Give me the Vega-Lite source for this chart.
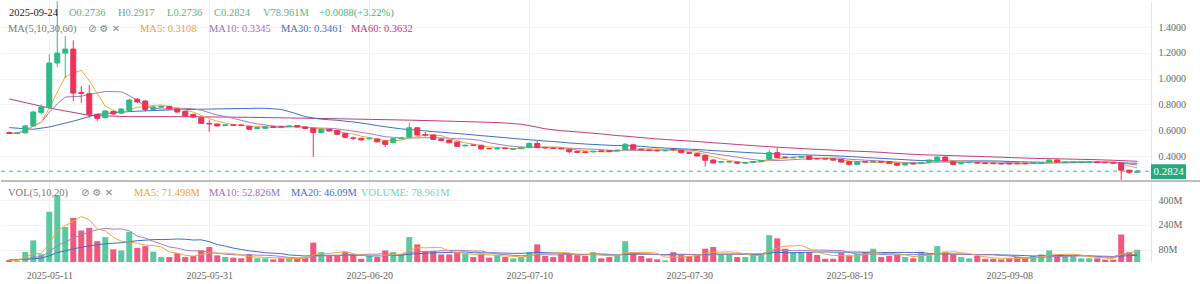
{
"$schema":"https://vega.github.io/schema/vega-lite/v6.json",
"background":"white",
"padding":0,
"spacing":0,
"config":{"view":{"stroke":null},"font":"Liberation Serif","axis":{"labelOverlap":false,"labelFont":"Liberation Serif","labelFontSize":10,"labelColor":"#666"}},
"datasets":{
"k":[
{"d":"2025-05-06","o":0.582,"h":0.590,"l":0.570,"c":0.575,"v":13},
{"d":"2025-05-07","o":0.575,"h":0.585,"l":0.570,"c":0.580,"v":6},
{"d":"2025-05-08","o":0.580,"h":0.640,"l":0.575,"c":0.633,"v":64},
{"d":"2025-05-09","o":0.633,"h":0.750,"l":0.628,"c":0.741,"v":140},
{"d":"2025-05-10","o":0.738,"h":0.800,"l":0.725,"c":0.780,"v":50},
{"d":"2025-05-11","o":0.775,"h":1.190,"l":0.765,"c":1.121,"v":325},
{"d":"2025-05-12","o":1.121,"h":1.600,"l":1.090,"c":1.198,"v":432},
{"d":"2025-05-13","o":1.198,"h":1.330,"l":1.005,"c":1.229,"v":226},
{"d":"2025-05-14","o":1.229,"h":1.297,"l":0.826,"c":0.888,"v":286},
{"d":"2025-05-15","o":0.892,"h":0.943,"l":0.810,"c":0.885,"v":204},
{"d":"2025-05-16","o":0.883,"h":0.950,"l":0.697,"c":0.723,"v":221},
{"d":"2025-05-17","o":0.723,"h":0.730,"l":0.672,"c":0.692,"v":135},
{"d":"2025-05-18","o":0.697,"h":0.757,"l":0.690,"c":0.749,"v":161},
{"d":"2025-05-19","o":0.745,"h":0.752,"l":0.715,"c":0.726,"v":82},
{"d":"2025-05-20","o":0.733,"h":0.772,"l":0.725,"c":0.764,"v":75},
{"d":"2025-05-21","o":0.752,"h":0.842,"l":0.745,"c":0.834,"v":196},
{"d":"2025-05-22","o":0.840,"h":0.850,"l":0.810,"c":0.819,"v":92},
{"d":"2025-05-23","o":0.826,"h":0.835,"l":0.745,"c":0.760,"v":103},
{"d":"2025-05-24","o":0.762,"h":0.790,"l":0.755,"c":0.780,"v":67},
{"d":"2025-05-25","o":0.778,"h":0.792,"l":0.770,"c":0.785,"v":32},
{"d":"2025-05-26","o":0.785,"h":0.790,"l":0.760,"c":0.765,"v":32},
{"d":"2025-05-27","o":0.765,"h":0.770,"l":0.735,"c":0.741,"v":56},
{"d":"2025-05-28","o":0.745,"h":0.750,"l":0.705,"c":0.710,"v":32},
{"d":"2025-05-29","o":0.722,"h":0.728,"l":0.697,"c":0.702,"v":39},
{"d":"2025-05-30","o":0.697,"h":0.700,"l":0.648,"c":0.653,"v":75},
{"d":"2025-05-31","o":0.653,"h":0.678,"l":0.588,"c":0.648,"v":97},
{"d":"2025-06-01","o":0.648,"h":0.652,"l":0.628,"c":0.633,"v":43},
{"d":"2025-06-02","o":0.636,"h":0.648,"l":0.632,"c":0.642,"v":32},
{"d":"2025-06-03","o":0.642,"h":0.646,"l":0.634,"c":0.638,"v":28},
{"d":"2025-06-04","o":0.640,"h":0.644,"l":0.632,"c":0.636,"v":24},
{"d":"2025-06-05","o":0.630,"h":0.635,"l":0.602,"c":0.607,"v":49},
{"d":"2025-06-06","o":0.612,"h":0.624,"l":0.608,"c":0.620,"v":24},
{"d":"2025-06-07","o":0.615,"h":0.631,"l":0.611,"c":0.627,"v":24},
{"d":"2025-06-08","o":0.627,"h":0.631,"l":0.618,"c":0.622,"v":17},
{"d":"2025-06-09","o":0.628,"h":0.632,"l":0.620,"c":0.624,"v":24},
{"d":"2025-06-10","o":0.628,"h":0.638,"l":0.624,"c":0.634,"v":24},
{"d":"2025-06-11","o":0.636,"h":0.640,"l":0.621,"c":0.625,"v":24},
{"d":"2025-06-12","o":0.625,"h":0.629,"l":0.609,"c":0.613,"v":28},
{"d":"2025-06-13","o":0.615,"h":0.620,"l":0.392,"c":0.581,"v":125},
{"d":"2025-06-14","o":0.581,"h":0.615,"l":0.575,"c":0.607,"v":64},
{"d":"2025-06-15","o":0.607,"h":0.611,"l":0.590,"c":0.594,"v":43},
{"d":"2025-06-16","o":0.599,"h":0.603,"l":0.564,"c":0.568,"v":45},
{"d":"2025-06-17","o":0.573,"h":0.577,"l":0.535,"c":0.545,"v":64},
{"d":"2025-06-18","o":0.540,"h":0.550,"l":0.525,"c":0.537,"v":49},
{"d":"2025-06-19","o":0.537,"h":0.541,"l":0.520,"c":0.525,"v":21},
{"d":"2025-06-20","o":0.533,"h":0.542,"l":0.529,"c":0.538,"v":39},
{"d":"2025-06-21","o":0.532,"h":0.536,"l":0.505,"c":0.510,"v":32},
{"d":"2025-06-22","o":0.516,"h":0.520,"l":0.470,"c":0.490,"v":75},
{"d":"2025-06-23","o":0.503,"h":0.538,"l":0.498,"c":0.534,"v":64},
{"d":"2025-06-24","o":0.534,"h":0.545,"l":0.530,"c":0.540,"v":49},
{"d":"2025-06-25","o":0.547,"h":0.658,"l":0.540,"c":0.619,"v":161},
{"d":"2025-06-26","o":0.619,"h":0.623,"l":0.558,"c":0.563,"v":114},
{"d":"2025-06-27","o":0.565,"h":0.585,"l":0.550,"c":0.562,"v":71},
{"d":"2025-06-28","o":0.563,"h":0.567,"l":0.524,"c":0.529,"v":71},
{"d":"2025-06-29","o":0.532,"h":0.536,"l":0.515,"c":0.520,"v":49},
{"d":"2025-06-30","o":0.524,"h":0.528,"l":0.498,"c":0.503,"v":49},
{"d":"2025-07-01","o":0.508,"h":0.512,"l":0.470,"c":0.475,"v":60},
{"d":"2025-07-02","o":0.478,"h":0.488,"l":0.474,"c":0.484,"v":54},
{"d":"2025-07-03","o":0.486,"h":0.490,"l":0.477,"c":0.481,"v":32},
{"d":"2025-07-04","o":0.483,"h":0.487,"l":0.450,"c":0.455,"v":54},
{"d":"2025-07-05","o":0.459,"h":0.463,"l":0.452,"c":0.456,"v":28},
{"d":"2025-07-06","o":0.455,"h":0.470,"l":0.448,"c":0.460,"v":45},
{"d":"2025-07-07","o":0.462,"h":0.466,"l":0.454,"c":0.458,"v":32},
{"d":"2025-07-08","o":0.452,"h":0.460,"l":0.448,"c":0.456,"v":24},
{"d":"2025-07-09","o":0.457,"h":0.470,"l":0.453,"c":0.466,"v":32},
{"d":"2025-07-10","o":0.465,"h":0.502,"l":0.461,"c":0.498,"v":64},
{"d":"2025-07-11","o":0.498,"h":0.516,"l":0.461,"c":0.465,"v":114},
{"d":"2025-07-12","o":0.467,"h":0.471,"l":0.458,"c":0.462,"v":39},
{"d":"2025-07-13","o":0.462,"h":0.466,"l":0.454,"c":0.458,"v":32},
{"d":"2025-07-14","o":0.460,"h":0.464,"l":0.451,"c":0.455,"v":54},
{"d":"2025-07-15","o":0.452,"h":0.456,"l":0.420,"c":0.433,"v":54},
{"d":"2025-07-16","o":0.437,"h":0.441,"l":0.424,"c":0.428,"v":45},
{"d":"2025-07-17","o":0.432,"h":0.436,"l":0.423,"c":0.427,"v":39},
{"d":"2025-07-18","o":0.432,"h":0.441,"l":0.428,"c":0.437,"v":64},
{"d":"2025-07-19","o":0.440,"h":0.444,"l":0.431,"c":0.435,"v":24},
{"d":"2025-07-20","o":0.440,"h":0.444,"l":0.432,"c":0.436,"v":32},
{"d":"2025-07-21","o":0.440,"h":0.450,"l":0.436,"c":0.446,"v":45},
{"d":"2025-07-22","o":0.450,"h":0.500,"l":0.446,"c":0.491,"v":135},
{"d":"2025-07-23","o":0.487,"h":0.491,"l":0.448,"c":0.452,"v":64},
{"d":"2025-07-24","o":0.453,"h":0.457,"l":0.444,"c":0.448,"v":39},
{"d":"2025-07-25","o":0.447,"h":0.451,"l":0.438,"c":0.442,"v":24},
{"d":"2025-07-26","o":0.444,"h":0.448,"l":0.436,"c":0.440,"v":17},
{"d":"2025-07-27","o":0.440,"h":0.448,"l":0.436,"c":0.444,"v":11},
{"d":"2025-07-28","o":0.452,"h":0.462,"l":0.440,"c":0.449,"v":64},
{"d":"2025-07-29","o":0.445,"h":0.449,"l":0.422,"c":0.426,"v":45},
{"d":"2025-07-30","o":0.426,"h":0.430,"l":0.416,"c":0.420,"v":39},
{"d":"2025-07-31","o":0.418,"h":0.422,"l":0.396,"c":0.400,"v":49},
{"d":"2025-08-01","o":0.405,"h":0.409,"l":0.317,"c":0.367,"v":86},
{"d":"2025-08-02","o":0.369,"h":0.373,"l":0.342,"c":0.346,"v":97},
{"d":"2025-08-03","o":0.352,"h":0.361,"l":0.348,"c":0.357,"v":49},
{"d":"2025-08-04","o":0.353,"h":0.361,"l":0.349,"c":0.357,"v":49},
{"d":"2025-08-05","o":0.353,"h":0.357,"l":0.340,"c":0.344,"v":32},
{"d":"2025-08-06","o":0.344,"h":0.353,"l":0.340,"c":0.349,"v":32},
{"d":"2025-08-07","o":0.350,"h":0.361,"l":0.346,"c":0.357,"v":49},
{"d":"2025-08-08","o":0.357,"h":0.369,"l":0.353,"c":0.365,"v":49},
{"d":"2025-08-09","o":0.374,"h":0.450,"l":0.370,"c":0.426,"v":174},
{"d":"2025-08-10","o":0.426,"h":0.465,"l":0.383,"c":0.387,"v":153},
{"d":"2025-08-11","o":0.392,"h":0.396,"l":0.383,"c":0.387,"v":86},
{"d":"2025-08-12","o":0.386,"h":0.394,"l":0.382,"c":0.390,"v":64},
{"d":"2025-08-13","o":0.390,"h":0.400,"l":0.386,"c":0.396,"v":60},
{"d":"2025-08-14","o":0.400,"h":0.404,"l":0.370,"c":0.374,"v":64},
{"d":"2025-08-15","o":0.380,"h":0.384,"l":0.373,"c":0.377,"v":45},
{"d":"2025-08-16","o":0.380,"h":0.384,"l":0.372,"c":0.376,"v":21},
{"d":"2025-08-17","o":0.378,"h":0.382,"l":0.364,"c":0.368,"v":21},
{"d":"2025-08-18","o":0.374,"h":0.378,"l":0.349,"c":0.353,"v":60},
{"d":"2025-08-19","o":0.356,"h":0.360,"l":0.331,"c":0.335,"v":43},
{"d":"2025-08-20","o":0.335,"h":0.360,"l":0.331,"c":0.356,"v":54},
{"d":"2025-08-21","o":0.357,"h":0.361,"l":0.349,"c":0.353,"v":64},
{"d":"2025-08-22","o":0.353,"h":0.362,"l":0.349,"c":0.358,"v":86},
{"d":"2025-08-23","o":0.358,"h":0.362,"l":0.349,"c":0.353,"v":32},
{"d":"2025-08-24","o":0.356,"h":0.360,"l":0.339,"c":0.343,"v":39},
{"d":"2025-08-25","o":0.343,"h":0.347,"l":0.324,"c":0.328,"v":45},
{"d":"2025-08-26","o":0.330,"h":0.347,"l":0.326,"c":0.343,"v":32},
{"d":"2025-08-27","o":0.345,"h":0.349,"l":0.334,"c":0.338,"v":24},
{"d":"2025-08-28","o":0.343,"h":0.354,"l":0.339,"c":0.350,"v":67},
{"d":"2025-08-29","o":0.353,"h":0.373,"l":0.349,"c":0.369,"v":49},
{"d":"2025-08-30","o":0.361,"h":0.396,"l":0.357,"c":0.392,"v":103},
{"d":"2025-08-31","o":0.392,"h":0.396,"l":0.357,"c":0.361,"v":67},
{"d":"2025-09-01","o":0.356,"h":0.360,"l":0.331,"c":0.335,"v":49},
{"d":"2025-09-02","o":0.340,"h":0.354,"l":0.336,"c":0.350,"v":32},
{"d":"2025-09-03","o":0.348,"h":0.356,"l":0.344,"c":0.352,"v":24},
{"d":"2025-09-04","o":0.350,"h":0.354,"l":0.341,"c":0.345,"v":39},
{"d":"2025-09-05","o":0.346,"h":0.350,"l":0.337,"c":0.341,"v":21},
{"d":"2025-09-06","o":0.345,"h":0.349,"l":0.337,"c":0.341,"v":21},
{"d":"2025-09-07","o":0.342,"h":0.346,"l":0.334,"c":0.338,"v":17},
{"d":"2025-09-08","o":0.342,"h":0.346,"l":0.334,"c":0.338,"v":24},
{"d":"2025-09-09","o":0.345,"h":0.349,"l":0.336,"c":0.340,"v":32},
{"d":"2025-09-10","o":0.345,"h":0.349,"l":0.336,"c":0.340,"v":24},
{"d":"2025-09-11","o":0.342,"h":0.351,"l":0.338,"c":0.347,"v":39},
{"d":"2025-09-12","o":0.344,"h":0.353,"l":0.340,"c":0.349,"v":49},
{"d":"2025-09-13","o":0.353,"h":0.373,"l":0.349,"c":0.369,"v":75},
{"d":"2025-09-14","o":0.369,"h":0.373,"l":0.349,"c":0.353,"v":49},
{"d":"2025-09-15","o":0.349,"h":0.358,"l":0.345,"c":0.354,"v":39},
{"d":"2025-09-16","o":0.350,"h":0.359,"l":0.346,"c":0.355,"v":39},
{"d":"2025-09-17","o":0.350,"h":0.359,"l":0.346,"c":0.355,"v":24},
{"d":"2025-09-18","o":0.350,"h":0.359,"l":0.346,"c":0.355,"v":24},
{"d":"2025-09-19","o":0.354,"h":0.358,"l":0.346,"c":0.350,"v":24},
{"d":"2025-09-20","o":0.352,"h":0.356,"l":0.344,"c":0.348,"v":15},
{"d":"2025-09-21","o":0.350,"h":0.354,"l":0.340,"c":0.344,"v":15},
{"d":"2025-09-22","o":0.344,"h":0.348,"l":0.215,"c":0.290,"v":178},
{"d":"2025-09-23","o":0.290,"h":0.294,"l":0.262,"c":0.2736,"v":64},
{"d":"2025-09-24","o":0.2736,"h":0.2917,"l":0.2736,"c":0.2824,"v":78.961}
],
"m30":[
{"d":"2025-05-06","m":0.620},{"d":"2025-05-09","m":0.607},{"d":"2025-05-11","m":0.625},{"d":"2025-05-14","m":0.670},{"d":"2025-05-17","m":0.723},{"d":"2025-05-21","m":0.745},{"d":"2025-05-26","m":0.757},{"d":"2025-05-31","m":0.764},{"d":"2025-06-04","m":0.768}
],
"m60":[
{"d":"2025-05-06","m":0.842},{"d":"2025-05-11","m":0.772},{"d":"2025-05-16","m":0.715},{"d":"2025-05-21","m":0.705},{"d":"2025-05-26","m":0.705},{"d":"2025-05-31","m":0.703},{"d":"2025-06-05","m":0.700},{"d":"2025-06-10","m":0.695},{"d":"2025-06-15","m":0.690},{"d":"2025-06-20","m":0.684},{"d":"2025-06-25","m":0.678},{"d":"2025-06-30","m":0.670},{"d":"2025-07-04","m":0.663}
],
"v10":[
{"d":"2025-05-06","m":15},{"d":"2025-05-08","m":19},{"d":"2025-05-09","m":31},{"d":"2025-05-10","m":35},{"d":"2025-05-11","m":66},{"d":"2025-05-12","m":107},{"d":"2025-05-13","m":129},{"d":"2025-05-14","m":156},{"d":"2025-05-15","m":174.6}
],
"v20":[
{"d":"2025-05-06","m":15},{"d":"2025-05-08","m":17},{"d":"2025-05-10","m":25},{"d":"2025-05-11","m":40},{"d":"2025-05-12","m":61},{"d":"2025-05-13","m":72},{"d":"2025-05-14","m":85},{"d":"2025-05-15","m":95},{"d":"2025-05-16","m":105},{"d":"2025-05-18","m":118},{"d":"2025-05-20","m":125},{"d":"2025-05-22","m":138},{"d":"2025-05-24","m":145},{"d":"2025-05-25","m":145.5}
]
},
"vconcat":[
{
"width":1150,"height":180,
"data":{"name":"k"},
"encoding":{"x":{"field":"d","type":"temporal","scale":{"type":"utc","domain":[{"year":2025,"month":5,"date":5,"hours":14,"minutes":10,"utc":true},{"year":2025,"month":9,"date":25,"hours":2,"minutes":24,"utc":true}]},"axis":{"values":[{"year":2025,"month":5,"date":11,"utc":true},{"year":2025,"month":5,"date":31,"utc":true},{"year":2025,"month":6,"date":20,"utc":true},{"year":2025,"month":7,"date":10,"utc":true},{"year":2025,"month":7,"date":30,"utc":true},{"year":2025,"month":8,"date":19,"utc":true},{"year":2025,"month":9,"date":8,"utc":true}],"tickCount":30,"labels":false,"ticks":false,"domain":false,"grid":true,"gridColor":"#efefef","title":null}}},
"layer":[
{"data":{"values":[{}]},"mark":{"type":"rule","stroke":"#3db58b","strokeWidth":1,"strokeDash":[4,4]},"encoding":{"x":{"value":0},"x2":{"value":1150},"y":{"datum":0.2824,"type":"quantitative","title":null,"scale":{"domain":[0.2062,1.6016],"nice":false,"zero":false},"axis":{"orient":"right","values":[0.4,0.6,0.8,1,1.2,1.4],"tickCount":20,"format":".4f","title":null,"ticks":false,"domain":true,"domainColor":"#e6e6e6","grid":true,"gridColor":"#f2f2f2","labelPadding":7,"labelOverlap":false}}}},
{"data":{"name":"m60"},"mark":{"type":"line","stroke":"#c23a7a","strokeWidth":1},"encoding":{"y":{"field":"m","type":"quantitative","title":null,"scale":{"domain":[0.2062,1.6016],"nice":false,"zero":false}}}},
{"transform":[{"window":[{"op":"mean","field":"c","as":"m"},{"op":"count","as":"n"}],"frame":[-59,0],"sort":[{"field":"d"}]},{"filter":"datum.n >= 60"}],"mark":{"type":"line","stroke":"#c23a7a","strokeWidth":1},"encoding":{"y":{"field":"m","type":"quantitative","title":null,"scale":{"domain":[0.2062,1.6016],"nice":false,"zero":false}}}},
{"data":{"name":"m30"},"mark":{"type":"line","stroke":"#3b6fc2","strokeWidth":1},"encoding":{"y":{"field":"m","type":"quantitative","title":null,"scale":{"domain":[0.2062,1.6016],"nice":false,"zero":false}}}},
{"transform":[{"window":[{"op":"mean","field":"c","as":"m"},{"op":"count","as":"n"}],"frame":[-29,0],"sort":[{"field":"d"}]},{"filter":"datum.n >= 30"}],"mark":{"type":"line","stroke":"#3b6fc2","strokeWidth":1},"encoding":{"y":{"field":"m","type":"quantitative","title":null,"scale":{"domain":[0.2062,1.6016],"nice":false,"zero":false}}}},
{"transform":[{"window":[{"op":"mean","field":"c","as":"m"}],"frame":[-9,0],"sort":[{"field":"d"}]}],"mark":{"type":"line","stroke":"#a57cc2","strokeWidth":1},"encoding":{"y":{"field":"m","type":"quantitative","title":null,"scale":{"domain":[0.2062,1.6016],"nice":false,"zero":false}}}},
{"transform":[{"window":[{"op":"mean","field":"c","as":"m"}],"frame":[-4,0],"sort":[{"field":"d"}]}],"mark":{"type":"line","stroke":"#f2a53a","strokeWidth":1},"encoding":{"y":{"field":"m","type":"quantitative","title":null,"scale":{"domain":[0.2062,1.6016],"nice":false,"zero":false}}}},
{"mark":{"type":"rule","strokeWidth":1},"encoding":{"y":{"field":"l","type":"quantitative","title":null,"scale":{"domain":[0.2062,1.6016],"nice":false,"zero":false}},"y2":{"field":"h"},"stroke":{"condition":{"test":"datum.c >= datum.o","value":"#2eb987"},"value":"#ee3158"}}},
{"mark":{"type":"bar","size":5,"strokeWidth":1},"encoding":{"y":{"field":"o","type":"quantitative","title":null,"scale":{"domain":[0.2062,1.6016],"nice":false,"zero":false}},"y2":{"field":"c"},"fill":{"condition":{"test":"datum.c >= datum.o","value":"#2eb987"},"value":"#ee3158"},"stroke":{"condition":{"test":"datum.c >= datum.o","value":"#2eb987"},"value":"#ee3158"}}},
{"data":{"values":[{}]},"mark":{"type":"rule","stroke":"#a8a8a8","strokeWidth":1.5},"encoding":{"x":{"value":0},"x2":{"value":1200},"y":{"datum":0.2062,"type":"quantitative","title":null}}},
{"data":{"values":[{}]},"mark":{"type":"rect","fill":"#27a77c"},"encoding":{"x":{"value":1150},"x2":{"value":1185},"y":{"datum":0.336,"type":"quantitative","title":null},"y2":{"datum":0.222}}},
{"data":{"values":[{}]},"mark":{"type":"text","text":"0.2824","align":"center","baseline":"middle","fontSize":11,"fill":"white"},"encoding":{"x":{"value":1167.5},"y":{"datum":0.279,"type":"quantitative","title":null}}},
{"data":{"values":[{}]},"mark":{"type":"text","text":"2025-09-24","align":"left","baseline":"middle","fontSize":10.5,"fill":"#222"},"encoding":{"x":{"value":8},"y":{"value":12}}},
{"data":{"values":[{}]},"mark":{"type":"text","text":"O0.2736","align":"left","baseline":"middle","fontSize":10.5,"fill":"#64ad8a"},"encoding":{"x":{"value":68},"y":{"value":12}}},
{"data":{"values":[{}]},"mark":{"type":"text","text":"H0.2917","align":"left","baseline":"middle","fontSize":10.5,"fill":"#64ad8a"},"encoding":{"x":{"value":117},"y":{"value":12}}},
{"data":{"values":[{}]},"mark":{"type":"text","text":"L0.2736","align":"left","baseline":"middle","fontSize":10.5,"fill":"#64ad8a"},"encoding":{"x":{"value":166},"y":{"value":12}}},
{"data":{"values":[{}]},"mark":{"type":"text","text":"C0.2824","align":"left","baseline":"middle","fontSize":10.5,"fill":"#64ad8a"},"encoding":{"x":{"value":213},"y":{"value":12}}},
{"data":{"values":[{}]},"mark":{"type":"text","text":"V78.961M","align":"left","baseline":"middle","fontSize":10.5,"fill":"#64ad8a"},"encoding":{"x":{"value":262},"y":{"value":12}}},
{"data":{"values":[{}]},"mark":{"type":"text","text":"+0.0088(+3.22%)","align":"left","baseline":"middle","fontSize":10.5,"fill":"#3fb482"},"encoding":{"x":{"value":318},"y":{"value":12}}},
{"data":{"values":[{}]},"mark":{"type":"text","text":"MA(5,10,30,60)","align":"left","baseline":"middle","fontSize":10.5,"fill":"#777"},"encoding":{"x":{"value":7},"y":{"value":28}}},
{"data":{"values":[{}]},"mark":{"type":"text","text":"⊘    ⚙    ✕","align":"left","baseline":"middle","font":"DejaVu Sans","fontSize":10,"fill":"#888"},"encoding":{"x":{"value":87},"y":{"value":28}}},
{"data":{"values":[{}]},"mark":{"type":"text","text":"MA5: 0.3108","align":"left","baseline":"middle","fontSize":10.5,"fill":"#f0a030"},"encoding":{"x":{"value":139},"y":{"value":28}}},
{"data":{"values":[{}]},"mark":{"type":"text","text":"MA10: 0.3345","align":"left","baseline":"middle","fontSize":10.5,"fill":"#9b70b8"},"encoding":{"x":{"value":208},"y":{"value":28}}},
{"data":{"values":[{}]},"mark":{"type":"text","text":"MA30: 0.3461","align":"left","baseline":"middle","fontSize":10.5,"fill":"#3b6fc2"},"encoding":{"x":{"value":280},"y":{"value":28}}},
{"data":{"values":[{}]},"mark":{"type":"text","text":"MA60: 0.3632","align":"left","baseline":"middle","fontSize":10.5,"fill":"#c23a7a"},"encoding":{"x":{"value":350},"y":{"value":28}}}
]
},
{
"width":1150,"height":80,
"data":{"name":"k"},
"encoding":{"x":{"field":"d","type":"temporal","scale":{"type":"utc","domain":[{"year":2025,"month":5,"date":5,"hours":14,"minutes":10,"utc":true},{"year":2025,"month":9,"date":25,"hours":2,"minutes":24,"utc":true}]},"axis":{"values":[{"year":2025,"month":5,"date":11,"utc":true},{"year":2025,"month":5,"date":31,"utc":true},{"year":2025,"month":6,"date":20,"utc":true},{"year":2025,"month":7,"date":10,"utc":true},{"year":2025,"month":7,"date":30,"utc":true},{"year":2025,"month":8,"date":19,"utc":true},{"year":2025,"month":9,"date":8,"utc":true}],"tickCount":30,"format":"%Y-%m-%d","ticks":false,"domain":false,"grid":true,"gridColor":"#efefef","title":null,"labelPadding":8,"labelOverlap":false}}},
"layer":[
{"mark":{"type":"bar","size":6},"encoding":{"y":{"field":"v","type":"quantitative","title":null,"scale":{"domain":[0,518],"nice":false},"axis":{"orient":"right","values":[80,240,400],"tickCount":20,"labelExpr":"datum.value + 'M'","title":null,"ticks":false,"domain":true,"domainColor":"#e6e6e6","grid":true,"gridColor":"#f2f2f2","labelPadding":7,"labelOverlap":false}},"fill":{"condition":{"test":"datum.c >= datum.o","value":"#5cc8a0"},"value":"#f0587c"}}},
{"data":{"name":"v20"},"mark":{"type":"line","stroke":"#3b6fc2","strokeWidth":1},"encoding":{"y":{"field":"m","type":"quantitative","title":null,"scale":{"domain":[0,518],"nice":false}}}},
{"transform":[{"window":[{"op":"mean","field":"v","as":"m"},{"op":"count","as":"n"}],"frame":[-19,0],"sort":[{"field":"d"}]},{"filter":"datum.n >= 20"}],"mark":{"type":"line","stroke":"#3b6fc2","strokeWidth":1},"encoding":{"y":{"field":"m","type":"quantitative","title":null,"scale":{"domain":[0,518],"nice":false}}}},
{"data":{"name":"v10"},"mark":{"type":"line","stroke":"#a57cc2","strokeWidth":1},"encoding":{"y":{"field":"m","type":"quantitative","title":null,"scale":{"domain":[0,518],"nice":false}}}},
{"transform":[{"window":[{"op":"mean","field":"v","as":"m"},{"op":"count","as":"n"}],"frame":[-9,0],"sort":[{"field":"d"}]},{"filter":"datum.n >= 10"}],"mark":{"type":"line","stroke":"#a57cc2","strokeWidth":1},"encoding":{"y":{"field":"m","type":"quantitative","title":null,"scale":{"domain":[0,518],"nice":false}}}},
{"transform":[{"window":[{"op":"mean","field":"v","as":"m"}],"frame":[-4,0],"sort":[{"field":"d"}]}],"mark":{"type":"line","stroke":"#f2a53a","strokeWidth":1},"encoding":{"y":{"field":"m","type":"quantitative","title":null,"scale":{"domain":[0,518],"nice":false}}}},
{"data":{"values":[{}]},"mark":{"type":"text","text":"VOL(5,10,20)","align":"left","baseline":"middle","fontSize":10.5,"fill":"#777"},"encoding":{"x":{"value":7},"y":{"value":11}}},
{"data":{"values":[{}]},"mark":{"type":"text","text":"⊘    ⚙    ✕","align":"left","baseline":"middle","font":"DejaVu Sans","fontSize":10,"fill":"#888"},"encoding":{"x":{"value":80},"y":{"value":11}}},
{"data":{"values":[{}]},"mark":{"type":"text","text":"MA5: 71.498M","align":"left","baseline":"middle","fontSize":10.5,"fill":"#f0a030"},"encoding":{"x":{"value":133},"y":{"value":11}}},
{"data":{"values":[{}]},"mark":{"type":"text","text":"MA10: 52.826M","align":"left","baseline":"middle","fontSize":10.5,"fill":"#9b70b8"},"encoding":{"x":{"value":208},"y":{"value":11}}},
{"data":{"values":[{}]},"mark":{"type":"text","text":"MA20: 46.09M","align":"left","baseline":"middle","fontSize":10.5,"fill":"#3b6fc2"},"encoding":{"x":{"value":290},"y":{"value":11}}},
{"data":{"values":[{}]},"mark":{"type":"text","text":"VOLUME: 78.961M","align":"left","baseline":"middle","fontSize":10.5,"fill":"#7ccfb0"},"encoding":{"x":{"value":360},"y":{"value":11}}}
]
}
]
}
